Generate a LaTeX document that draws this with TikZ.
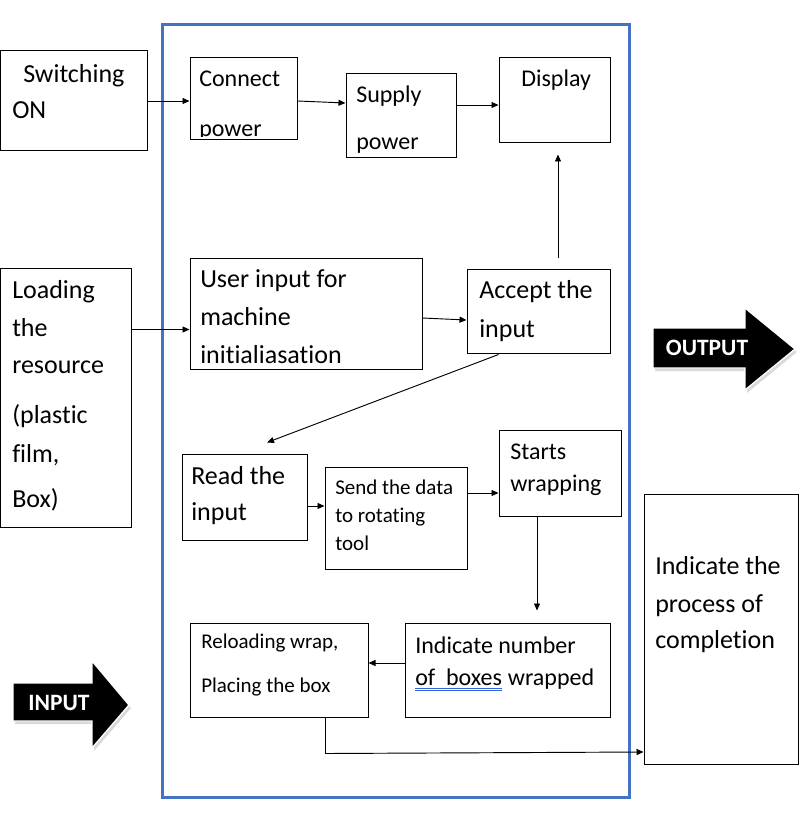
\documentclass[tikz,border=0pt]{standalone}
\usepackage{fontspec}
\setmainfont{Carlito}[Ligatures=NoCommon]
\usetikzlibrary{arrows.meta,fit,calc}
\begin{document}
\begin{tikzpicture}[x=0.75pt,y=-0.75pt,
  box/.style={draw=black,line width=0.75pt,inner sep=0pt},
  bigtxt/.style={anchor=base west,inner sep=0pt,font=\fontsize{19.5}{23}\selectfont},
  midtxt/.style={anchor=base west,inner sep=0pt,font=\fontsize{18}{22}\selectfont},
  smltxt/.style={anchor=base west,inner sep=0pt,font=\fontsize{15.75}{19}\selectfont},
  link/.style={draw=black,line width=0.7pt,-{Triangle[length=5.25pt,width=4.5pt]}},
  arrowtxt/.style={text=white,inner sep=0pt,font=\bfseries\fontsize{17.6}{20}\selectfont}]
\definecolor{frameblue}{RGB}{68,114,196}
\definecolor{spellblue}{RGB}{50,100,220}
\useasboundingbox (0,0) rectangle (799,827);
\draw[frameblue,line width=2.25pt] (162,25) rectangle (629,797);
% boxes
\node[box,fit={(0,51)(147,151)}] (switchon) {};
\node[box,fit={(190,58)(297,140)}] (connect) {};
\node[box,fit={(346,74)(456,158)}] (supply) {};
\node[box,fit={(499,58)(610,143)}] (display) {};
\node[box,fit={(0,268)(131,527)}] (load) {};
\node[box,fit={(190,258)(422,369)}] (user) {};
\node[box,fit={(467,269)(610,353)}] (accept) {};
\node[box,fit={(182,454)(307,540)}] (read) {};
\node[box,fit={(325,467)(467,569)}] (send) {};
\node[box,fit={(499,430)(621,516)}] (starts) {};
\node[box,fit={(644,494)(798,764)}] (process) {};
\node[box,fit={(190,623)(368,717)}] (reload) {};
\node[box,fit={(405,623)(610,717)}] (number) {};
% texts
\node[bigtxt] (switchonA) at (23,83) {Switching};
\node[bigtxt] (switchonB) at (12,119) {ON};
\node[midtxt] (connectA) at (199,87) {Connect};
\begin{scope}
\clip (190,58) rectangle (297,137);
\node[midtxt] (connectB) at (199,137) {power};
\end{scope}
\node[midtxt] (supplyA) at (356,103) {Supply};
\node[midtxt] (supplyB) at (356,150) {power};
\node[midtxt] (displayA) at (521,87) {Display};
\node[bigtxt] (loadA) at (12,298) {Loading};
\node[bigtxt] (loadB) at (12,336) {the};
\node[bigtxt] (loadC) at (12,373) {resource};
\node[bigtxt] (loadD) at (12,423) {(plastic};
\node[bigtxt] (loadE) at (12,462) {film,};
\node[bigtxt] (loadF) at (12,507) {Box)};
\node[bigtxt] (userA) at (200,287) {User input for};
\node[bigtxt] (userB) at (200,325) {machine};
\node[bigtxt] (userC) at (200,363) {initialiasation};
\node[bigtxt] (acceptA) at (479,298) {Accept the};
\node[bigtxt] (acceptB) at (479,337) {input};
\node[bigtxt] (readA) at (191,484) {Read the};
\node[bigtxt] (readB) at (191,520) {input};
\node[smltxt] (sendA) at (335,494) {Send the data};
\node[smltxt] (sendB) at (335,522) {to rotating};
\node[smltxt] (sendC) at (335,550) {tool};
\node[midtxt] (startsA) at (510,459) {Starts};
\node[midtxt] (startsB) at (510,491) {wrapping};
\node[bigtxt] (processA) at (655,574) {Indicate the};
\node[bigtxt] (processB) at (655,612) {process of};
\node[bigtxt] (processC) at (655,648) {completion};
\node[smltxt] (reloadA) at (201,648) {Reloading wrap,};
\node[smltxt] (reloadB) at (201,692) {Placing the box};
\node[midtxt] (numberA) at (415,653) {Indicate number};
\node[midtxt] (numberB) at (415,685) {of\ \ boxes};
\node[midtxt,xshift=4pt] (numberC) at (numberB.base east) {wrapped};
\draw[spellblue,line width=0.6pt] ([yshift=-2.2pt]numberB.base west) -- ([yshift=-2.2pt]numberB.base east);
\draw[spellblue,line width=0.6pt] ([yshift=-4.4pt]numberB.base west) -- ([yshift=-4.4pt]numberB.base east);
% connectors
\coordinate (c1) at (switchon.east);
\coordinate (c2) at ($(connect.east)+(0,2)$);
\coordinate (c3) at ($(supply.east)+(0,-11)$);
\coordinate (c4) at ($(load.east)+(0,-68)$);
\coordinate (c5) at ($(read.east)+(0,9)$);
\coordinate (c6) at ($(send.east)+(0,-25)$);
\coordinate (c7) at ($(number.west)+(0,-7)$);
\coordinate (c8) at ($(reload.south)+(46.5,0)$);
\draw[link] (c1) -- (c1 -| connect.west);
\draw[link] (c2) -- ($(supply.west)+(0,-13)$);
\draw[link] (c3) -- (c3 -| display.west);
\draw[link] ($(accept.north)+(19.5,-11)$) -- ($(display.south)+(3.5,11)$);
\draw[link] (c4) -- (c4 -| user.west);
\draw[link] ($(user.east)+(0,4.5)$) -- ($(accept.west)+(0,9)$);
\draw[link] ($(accept.south)+(-40,1)$) -- ($(read.north)+(22.5,-11)$);
\draw[link] (c5) -- (c5 -| send.west);
\draw[link] (c6) -- (c6 -| starts.west);
\draw[link] ($(starts.south)+(-23,0)$) -- ($(number.north)+(29.5,-12)$);
\draw[link] (c7) -- (c7 -| reload.east);
\draw[link] (c8) -- ++(0,36) -- ($(process.west)+(0,123)$);
% block arrows
\fill[gray!30,shift={(2,3)}] (653,328) -- (745,328) -- (745,308) -- (795,349) -- (745,390) -- (745,368) -- (653,368) -- cycle;
\filldraw[fill=black,draw=white,line width=1pt] (653,328) -- (745,328) -- (745,308) -- (795,349) -- (745,390) -- (745,368) -- (653,368) -- cycle;
\node[arrowtxt] (outputT) at (707,348) {OUTPUT};
\fill[gray!30,shift={(2,3)}] (13,683) -- (92,683) -- (92,661) -- (129,705) -- (92,748) -- (92,721) -- (13,721) -- cycle;
\filldraw[fill=black,draw=white,line width=1pt] (13,683) -- (92,683) -- (92,661) -- (129,705) -- (92,748) -- (92,721) -- (13,721) -- cycle;
\node[arrowtxt] (inputT) at (59,703) {INPUT};
\end{tikzpicture}
\end{document}
